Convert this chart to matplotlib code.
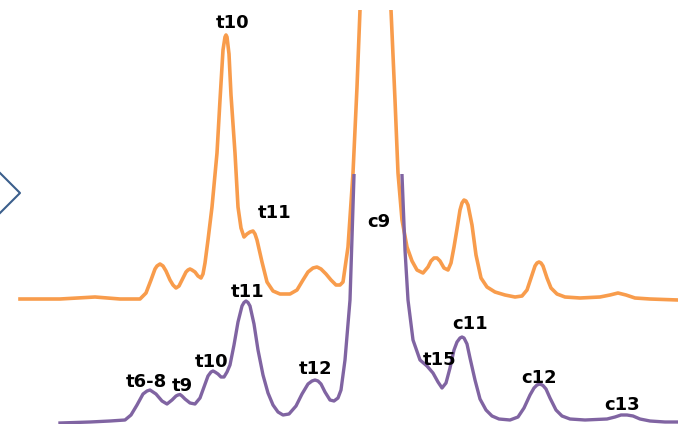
import matplotlib
matplotlib.use("Agg")
import matplotlib.pyplot as plt
from matplotlib.patches import Rectangle

# upper trace (orange): retention position and signal above its own baseline
orange_rt = [20, 60, 95, 120, 140, 146, 151, 155, 157, 160, 163, 166, 170, 173,
             176, 179, 183, 186, 188, 190, 192, 195, 198, 201, 203, 205, 208,
             212, 217, 220, 223, 225, 226, 227, 229, 231, 235, 238, 241, 244,
             247, 250, 253, 255, 257, 262, 267, 273, 280, 290, 297, 303, 308,
             313, 317, 321, 326, 331, 336, 340, 343, 348, 353, 357, 360, 376,
             391, 395, 398, 402, 407, 412, 417, 423, 428, 431, 434, 437, 440,
             444, 448, 451, 454, 457, 460, 462, 464, 466, 468, 472, 476, 481,
             487, 495, 505, 515, 522, 527, 531, 535, 537, 539, 541, 543, 547,
             551, 557, 565, 580, 600, 610, 618, 626, 635, 650, 678]
orange_sig = [0, 0, 2, 0, 0, 6, 19, 30, 33, 35, 33, 28, 19, 14,
              11, 13, 21, 27, 29, 30, 29, 27, 23, 21, 25, 36, 59,
              92, 146, 199, 249, 262, 264, 262, 245, 204, 146, 92, 71, 62,
              65, 67, 68, 65, 59, 37, 17, 8, 5, 5, 9, 19, 27,
              31, 32, 30, 25, 19, 14, 14, 17, 52, 126, 212, 289, 600,
              289, 199, 126, 79, 52, 38, 29, 26, 32, 38, 41, 41, 38,
              31, 29, 36, 52, 70, 89, 96, 99, 98, 94, 74, 44, 21,
              12, 7, 4, 2, 3, 9, 21, 33, 36, 37, 36, 33, 21,
              11, 5, 2, 1, 2, 4, 6, 4, 1, 0, -1]

# lower trace (purple)
purple_rt = [60, 90, 110, 125, 131, 137, 143, 147, 150, 153, 156, 162, 167, 172,
             176, 178, 180, 182, 185, 190, 195, 200, 204, 208, 211, 213, 215,
             218, 221, 224, 227, 230, 234, 238, 242, 244, 246, 248, 250, 254,
             258, 263, 268, 273, 278, 283, 289, 296, 302, 308, 312, 315, 318,
             321, 325, 330, 334, 338, 341, 345, 350, 354, 356, 378, 400, 402,
             405, 408, 413, 420, 427, 433, 438, 442, 446, 450, 454, 457, 460,
             462, 464, 467, 470, 475, 480, 486, 492, 499, 510, 518, 524, 530,
             534, 537, 540, 543, 546, 550, 556, 562, 570, 585, 607, 615, 621,
             627, 633, 640, 650, 665, 678]
purple_sig = [-1, 0, 1, 2, 7, 17, 28, 31, 32, 30, 28, 21, 18, 22,
              26, 27, 27.5, 26, 23, 19, 18, 24, 35, 46, 50, 51, 50,
              48, 45, 45, 50, 57, 77, 100, 116, 119.5, 121, 119.5, 116, 98,
              72, 47, 29, 17, 10, 7, 8, 16, 28, 38, 41, 42, 41,
              38, 30, 22, 21, 24, 32, 62, 122, 247, 302, 700, 302, 247,
              172, 122, 82, 62, 56, 49, 40, 34, 39, 54, 72, 80, 84,
              85, 84, 78, 64, 42, 23, 12, 6, 3, 2, 5, 14, 27,
              34, 37, 38, 36.5, 33, 24, 12, 6, 3, 2, 3, 5, 7,
              7, 6, 3, 1, 0, 0]

orange_labels = [("t10", 233, 276), ("t11", 275, 86), ("c9", 379, 77)]
purple_labels = [("t11", 248, 130), ("t6-8", 146, 40), ("t9", 182, 36),
                 ("t10", 212, 60), ("t12", 316, 53), ("t15", 440, 62),
                 ("c11", 470, 98), ("c12", 539, 44), ("c13", 622, 17)]

orange_base = 125
purple_base = 2

fig = plt.figure(figsize=(6.78, 4.24), dpi=100)
ax = fig.add_axes([0, 0, 1, 1])
ax.set_xlim(0, 678)
ax.set_ylim(0, 424)
ax.axis("off")

oy = [s + orange_base for s in orange_sig]
py = [s + purple_base for s in purple_sig]

l1, = ax.plot(orange_rt, oy, color="#f89c4c", lw=2.6, solid_joinstyle="round")
l2, = ax.plot(purple_rt, py, color="#8064a2", lw=2.4, solid_joinstyle="round")

# the big c9 peak runs off the picture
clip_o = Rectangle((0, 0), 678, 414, transform=ax.transData)
clip_p = Rectangle((0, 0), 678, 250, transform=ax.transData)
l1.set_clip_path(clip_o)
l2.set_clip_path(clip_p)

for txt, x, s in orange_labels:
    ax.text(x, s + orange_base, txt, ha="center", va="center",
            fontsize=13, fontweight="bold", color="black")
for txt, x, s in purple_labels:
    ax.text(x, s + purple_base, txt, ha="center", va="center",
            fontsize=13, fontweight="bold", color="black")

# edge of the arrow shape on the left
ax.plot([0, 20, 0], [251, 231, 211], color="#3b5f8c", lw=1.5, clip_on=False)

fig.savefig("out.png", dpi=100)
